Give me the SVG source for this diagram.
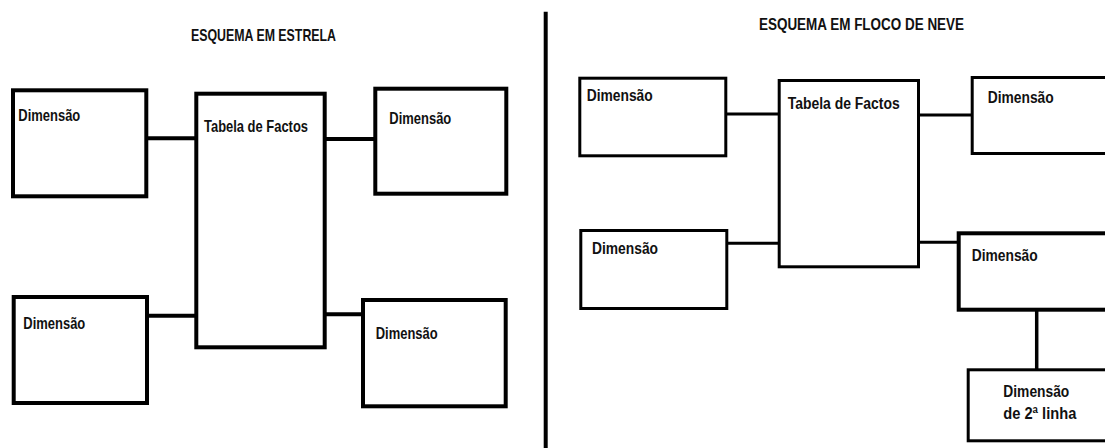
<svg xmlns="http://www.w3.org/2000/svg" width="1105" height="448" viewBox="0 0 1105 448">
<style>
  .bg { fill: #ffffff; }
  .box { fill: #ffffff; stroke: #000000; }
  .l { stroke-width: 4; }
  .r { stroke-width: 3; }
  .conn line { stroke: #000000; }
  .t { font-family: "Liberation Sans", Arial, sans-serif; font-weight: bold; fill: #111111; }
  .s15 { font-size: 17px; }
  .s14 { font-size: 16px; }
</style>
<rect class="bg" x="0" y="0" width="1105" height="448"/>

<g id="titles">
  <text class="t s15" x="191" y="41" textLength="145" lengthAdjust="spacingAndGlyphs">ESQUEMA EM ESTRELA</text>
  <text class="t s14" x="759" y="30" textLength="205" lengthAdjust="spacingAndGlyphs">ESQUEMA EM FLOCO DE NEVE</text>
</g>

<g id="divider">
  <line x1="545.7" y1="11.7" x2="545.7" y2="448" stroke="#000" stroke-width="4"/>
</g>

<g class="conn" id="connectors">
  <line x1="148" y1="138.3" x2="196" y2="138.3" stroke-width="4"/>
  <line x1="326" y1="139" x2="375" y2="139" stroke-width="4"/>
  <line x1="148" y1="315.7" x2="196" y2="315.7" stroke-width="4"/>
  <line x1="326" y1="314.3" x2="363" y2="314.3" stroke-width="4"/>
  <line x1="727" y1="114" x2="779" y2="114" stroke-width="3"/>
  <line x1="919" y1="115" x2="972" y2="115" stroke-width="3"/>
  <line x1="727" y1="243.3" x2="779" y2="243.3" stroke-width="3"/>
  <line x1="919" y1="242.3" x2="958" y2="242.3" stroke-width="3"/>
  <line x1="1036.7" y1="311" x2="1036.7" y2="369" stroke-width="3.5"/>
</g>

<g id="star-dim-tl">
  <rect class="box l" x="13" y="90.3" width="133.3" height="106"/>
  <text class="t s15" x="18.3" y="120.7" textLength="62" lengthAdjust="spacingAndGlyphs">Dimensão</text>
</g>
<g id="star-fact">
  <rect class="box l" x="196.3" y="93.7" width="128.4" height="253.6"/>
  <text class="t s15" x="204" y="132.3" textLength="104" lengthAdjust="spacingAndGlyphs">Tabela de Factos</text>
</g>
<g id="star-dim-tr">
  <rect class="box l" x="375.3" y="88.7" width="131" height="105"/>
  <text class="t s15" x="389.3" y="124" textLength="62" lengthAdjust="spacingAndGlyphs">Dimensão</text>
</g>
<g id="star-dim-bl">
  <rect class="box l" x="13.7" y="297" width="133.3" height="106"/>
  <text class="t s15" x="23.3" y="329.3" textLength="62" lengthAdjust="spacingAndGlyphs">Dimensão</text>
</g>
<g id="star-dim-br">
  <rect class="box l" x="363" y="300" width="142.7" height="106.3"/>
  <text class="t s15" x="375.7" y="339" textLength="62" lengthAdjust="spacingAndGlyphs">Dimensão</text>
</g>

<g id="snow-dim-tl">
  <rect class="box r" x="579.8" y="78.2" width="146" height="77.6"/>
  <text class="t s14" x="586.7" y="100.7" textLength="66" lengthAdjust="spacingAndGlyphs">Dimensão</text>
</g>
<g id="snow-dim-bl">
  <rect class="box r" x="580.8" y="230.5" width="146" height="78"/>
  <text class="t s14" x="592" y="254" textLength="66" lengthAdjust="spacingAndGlyphs">Dimensão</text>
</g>
<g id="snow-fact">
  <rect class="box r" x="779.2" y="80.5" width="139.3" height="186.3"/>
  <text class="t s14" x="787.7" y="109.3" textLength="112" lengthAdjust="spacingAndGlyphs">Tabela de Factos</text>
</g>
<g id="snow-dim-tr">
  <rect class="box r" x="972.2" y="77.5" width="160" height="76"/>
  <text class="t s14" x="987.7" y="103.3" textLength="66" lengthAdjust="spacingAndGlyphs">Dimensão</text>
</g>
<g id="snow-dim-mr">
  <rect class="box l" x="958.7" y="233.3" width="160" height="76.4"/>
  <text class="t s14" x="971.7" y="260.7" textLength="66" lengthAdjust="spacingAndGlyphs">Dimensão</text>
</g>
<g id="snow-dim-2nd">
  <rect class="box r" x="968.2" y="369.8" width="160" height="71"/>
  <text class="t s14" x="1003.3" y="397.3" textLength="66" lengthAdjust="spacingAndGlyphs">Dimensão</text>
  <text class="t s14" x="1003.3" y="419" textLength="73" lengthAdjust="spacingAndGlyphs">de 2ª linha</text>
</g>
</svg>
